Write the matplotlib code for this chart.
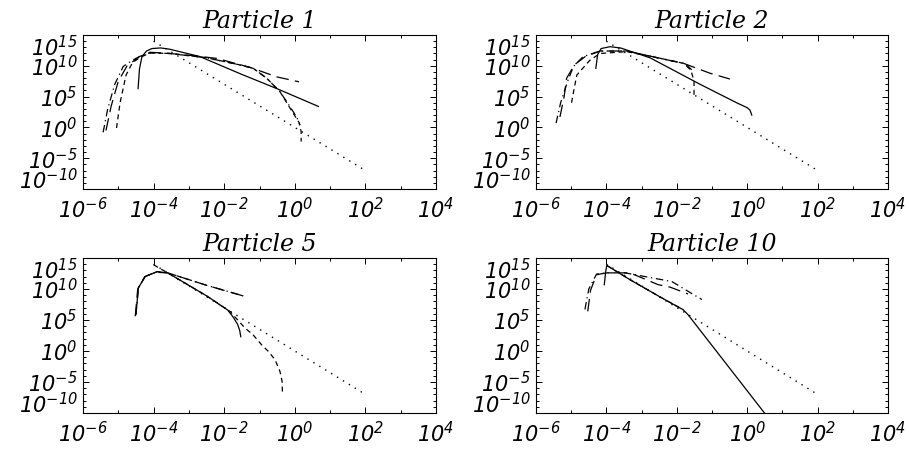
"""Four-panel log-log spectra, IDL-style, one panel per particle."""
import numpy as np
import matplotlib.pyplot as plt

plt.rcParams["mathtext.fontset"] = "custom"
plt.rcParams["mathtext.rm"] = "DejaVu Sans:italic"
plt.rcParams["mathtext.it"] = "DejaVu Sans:italic"
plt.rcParams["mathtext.default"] = "rm"

TITLES = ["Particle 1", "Particle 2", "Particle 5", "Particle 10"]

X_TICK_EXP = [-6, -4, -2, 0, 2, 4]
Y_TICK_EXP = [-10, -5, 0, 5, 10, 15]

# all values below are log10 of the plotted quantities
# reference power law (dotted), same in every panel
ref_x = [-4.0, 2.0]
ref_y = [14.0, -7.0]

# Particle 1
p1_solid_x = [-4.44, -4.40, -4.33, -4.2, -4.05, -3.8, -3.55, -2.69, -1.5, -0.51, 0.67]
p1_solid_y = [6.3, 9.5, 11.5, 12.4, 12.8, 12.9, 12.7, 11.5, 8.6, 6.3, 3.4]
p1_dash_x = [-5.05, -4.95, -4.78, -4.6, -4.4, -4.1, -3.54, -2.5, -1.6, -1.18, -0.80, -0.42, -0.1, 0.12, 0.18, 0.18]
p1_dash_y = [-0.1, 4.0, 8.5, 10.5, 11.3, 12.1, 12.0, 11.3, 10.2, 9.6, 8.0, 5.8, 2.8, 0.8, -0.7, -2.3]
p1_dashdot_x = [-5.43, -5.3, -5.1, -4.86, -4.6, -4.4, -4.1, -3.54, -2.5, -1.6, -1.18, -0.80, -0.42, -0.14, 0.05, 0.15]
p1_dashdot_y = [-0.8, 3.0, 7.0, 9.9, 10.9, 11.5, 12.1, 12.0, 11.3, 10.2, 9.6, 8.0, 5.8, 3.4, 1.7, 0.4]
p1_long_x = [-5.35, -5.2, -5.0, -4.75, -4.4, -4.1, -3.54, -2.8, -2.21, -1.27, -0.51, 0.12]
p1_long_y = [-0.5, 3.5, 7.5, 10.0, 11.5, 12.2, 12.0, 11.6, 11.2, 9.75, 8.2, 7.4]

# Particle 2
p2_solid_x = [-4.30, -4.25, -4.15, -3.9, -3.6, -2.76, -1.34, -0.3, 0.0, 0.08, 0.13]
p2_solid_y = [9.6, 11.8, 12.8, 13.1, 12.9, 11.3, 7.0, 4.0, 3.2, 2.8, 2.0]
p2_dash_x = [-4.99, -4.95, -4.84, -4.47, -4.18, -3.42, -2.38, -1.81, -1.6, -1.51, -1.51]
p2_dash_y = [4.0, 5.3, 8.5, 10.9, 12.0, 12.3, 11.1, 10.4, 9.3, 7.5, 5.0]
p2_dashdot_x = [-5.43, -5.3, -5.1, -4.94, -4.66, -4.18, -3.42, -2.38, -1.81, -1.72, -1.6, -1.53]
p2_dashdot_y = [0.7, 4.0, 7.5, 9.85, 11.5, 12.4, 12.4, 11.1, 10.4, 10.1, 9.5, 8.8]
p2_long_x = [-5.32, -5.2, -5.13, -4.9, -4.6, -4.18, -3.42, -2.38, -1.81, -1.06, -0.49]
p2_long_y = [1.7, 5.0, 8.0, 10.2, 11.5, 12.4, 12.4, 11.1, 10.4, 8.8, 7.85]

# Particle 5
p5_solid_x = [-4.5, -4.43, -4.24, -3.9, -3.6, -2.5, -1.9, -1.75, -1.62, -1.56, -1.53]
p5_solid_y = [5.9, 10.2, 12.0, 12.8, 12.6, 8.9, 6.6, 5.5, 4.3, 3.3, 2.3]
p5_dash_x = [-4.0, -3.6, -2.5, -1.84, -1.41, -1.18, -0.94, -0.75, -0.56, -0.42, -0.36, -0.35]
p5_dash_y = [13.9, 12.6, 8.9, 6.4, 3.7, 2.6, 1.0, -0.06, -1.4, -3.3, -4.9, -6.8]
p5_dashdot_x = [-4.5, -4.43, -4.24, -3.9, -3.6, -2.5, -1.41]
p5_dashdot_y = [5.9, 10.2, 12.0, 12.8, 12.6, 10.6, 8.8]
p5_long_x = [-4.52, -4.45, -4.25, -3.95, -3.6, -2.5, -1.41]
p5_long_y = [5.6, 10.0, 12.0, 12.7, 12.6, 10.6, 8.8]

# Particle 10
p10_solid_x = [-4.06, -4.02, -3.99, -3.33, -2.5, -1.82, -1.68, 0.34, 0.49]
p10_solid_y = [10.7, 12.8, 13.8, 11.5, 8.8, 6.66, 5.85, -8.9, -10.0]
p10_dash_x = [-3.99, -3.33, -2.5, -1.82]
p10_dash_y = [13.8, 11.5, 8.8, 6.66]
p10_dashdot_x = [-4.61, -4.5, -4.28, -4.0, -3.47, -2.14, -1.29]
p10_dashdot_y = [6.7, 10.0, 12.4, 12.6, 12.6, 11.2, 8.3]
p10_long_x = [-4.53, -4.45, -4.28, -4.0, -3.33, -2.53, -2.19, -1.68]
p10_long_y = [6.4, 9.8, 12.3, 12.6, 12.6, 10.7, 10.3, 9.2]

PANELS = [
    [(p1_solid_x, p1_solid_y), (p1_dash_x, p1_dash_y), (p1_dashdot_x, p1_dashdot_y), (p1_long_x, p1_long_y)],
    [(p2_solid_x, p2_solid_y), (p2_dash_x, p2_dash_y), (p2_dashdot_x, p2_dashdot_y), (p2_long_x, p2_long_y)],
    [(p5_solid_x, p5_solid_y), (p5_dash_x, p5_dash_y), (p5_dashdot_x, p5_dashdot_y), (p5_long_x, p5_long_y)],
    [(p10_solid_x, p10_solid_y), (p10_dash_x, p10_dash_y), (p10_dashdot_x, p10_dashdot_y), (p10_long_x, p10_long_y)],
]

STYLES = ["-", (0, (4, 3)), (0, (6, 3, 1, 3)), (0, (10, 5))]

# axes boxes in figure pixels: left, top, right, bottom
BOXES = [(83, 35, 436, 189), (536, 35, 888, 189), (83, 258, 436, 413), (536, 258, 888, 413)]
W, H = 909, 449


def style_axes(ax, title):
    ax.set_xscale("log")
    ax.set_yscale("log")
    ax.set_xlim(1e-6, 1e4)
    ax.set_ylim(1e-10, 1e15)
    ax.set_xticks([10.0 ** e for e in X_TICK_EXP])
    ax.set_xticklabels([rf"$10^{{{e}}}$" for e in X_TICK_EXP])
    ax.set_xticks([10.0 ** e for e in range(-6, 5)], minor=True)
    ax.set_xticklabels([], minor=True)
    ax.set_yticks([10.0 ** e for e in Y_TICK_EXP])
    ax.set_yticklabels([rf"$10^{{{e}}}$" for e in Y_TICK_EXP])
    ax.set_yticks([10.0 ** e for e in range(-10, 16)], minor=True)
    ax.set_yticklabels([], minor=True)
    ax.tick_params(which="both", direction="in", top=True, right=True, width=0.7,
                   labelsize=15, pad=4)
    ax.tick_params(axis="x", pad=6)
    ax.tick_params(which="major", length=4)
    ax.tick_params(which="minor", length=2)
    labels = ax.get_yticklabels()
    labels[0].set_va("baseline")
    labels[-1].set_va("top")
    for sp in ax.spines.values():
        sp.set_linewidth(0.8)
    ax.set_title(title, fontsize=17, family="DejaVu Serif", style="italic", pad=5)


fig = plt.figure(figsize=(W / 100, H / 100), dpi=100)
for (l, t, r, b), title, curves in zip(BOXES, TITLES, PANELS):
    ax = fig.add_axes([l / W, 1 - b / H, (r - l) / W, (b - t) / H])
    ax.plot(10.0 ** np.array(ref_x), 10.0 ** np.array(ref_y), color="black",
            lw=1.0, linestyle=(0, (1, 4)))
    for (cx, cy), ls in zip(curves, STYLES):
        ax.plot(10.0 ** np.array(cx), 10.0 ** np.array(cy), color="black",
                lw=0.9, linestyle=ls)
    style_axes(ax, title)

fig.savefig("out.png", dpi=100)
